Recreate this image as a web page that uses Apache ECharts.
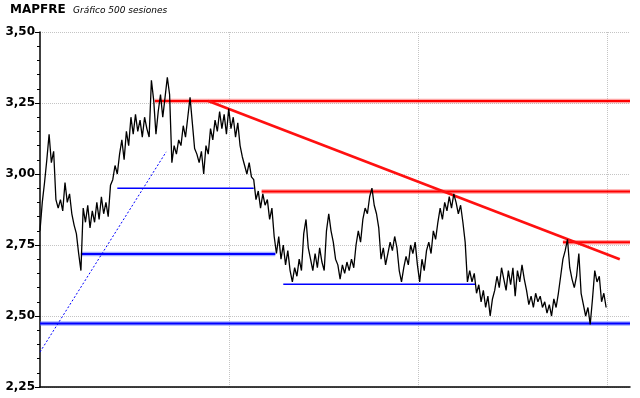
<!DOCTYPE html>
<html><head><meta charset="utf-8">
<script src="https://cdn.jsdelivr.net/npm/echarts@6/dist/echarts.min.js"></script>
<style>html,body{margin:0;padding:0;background:#fff}#c{width:640px;height:398px}</style>
</head><body><div id="c"></div>
<script>
// daily closes sampled every 2 sessions (500 sessions)
const sessionStep = 2;
const prices = [
2.80,2.90,2.97,3.05,3.14,3.04,3.08,2.91,2.88,2.91,
2.87,2.97,2.90,2.93,2.86,2.82,2.79,2.72,2.66,2.88,
2.83,2.89,2.81,2.87,2.83,2.90,2.84,2.92,2.86,2.90,
2.85,2.96,2.98,3.03,3.00,3.07,3.12,3.05,3.15,3.10,
3.20,3.14,3.21,3.15,3.19,3.13,3.20,3.16,3.13,3.33,
3.26,3.14,3.22,3.28,3.20,3.27,3.34,3.28,3.04,3.10,
3.07,3.12,3.10,3.17,3.13,3.20,3.27,3.18,3.09,3.07,
3.04,3.08,3.00,3.10,3.07,3.16,3.12,3.19,3.15,3.22,
3.16,3.21,3.14,3.23,3.16,3.20,3.13,3.18,3.10,3.06,
3.03,3.00,3.04,2.99,2.98,2.91,2.94,2.88,2.93,2.89,
2.91,2.84,2.88,2.78,2.72,2.78,2.70,2.75,2.68,2.73,
2.66,2.62,2.67,2.64,2.70,2.66,2.79,2.84,2.74,2.70,
2.66,2.72,2.67,2.74,2.69,2.66,2.80,2.86,2.80,2.76,
2.70,2.68,2.63,2.68,2.65,2.69,2.66,2.70,2.67,2.75,
2.80,2.76,2.84,2.88,2.86,2.92,2.95,2.89,2.86,2.81,
2.70,2.74,2.68,2.72,2.76,2.73,2.78,2.74,2.66,2.62,
2.67,2.71,2.68,2.75,2.72,2.76,2.68,2.62,2.70,2.66,
2.73,2.76,2.72,2.80,2.77,2.83,2.88,2.84,2.90,2.87,
2.92,2.88,2.93,2.90,2.86,2.89,2.83,2.76,2.62,2.66,
2.62,2.65,2.58,2.61,2.55,2.59,2.53,2.57,2.50,2.56,
2.59,2.64,2.60,2.67,2.63,2.59,2.66,2.61,2.67,2.57,
2.66,2.62,2.68,2.63,2.59,2.54,2.57,2.53,2.58,2.55,
2.57,2.53,2.55,2.51,2.54,2.50,2.56,2.53,2.58,2.64,
2.70,2.73,2.77,2.67,2.63,2.60,2.64,2.72,2.58,2.54,
2.50,2.53,2.47,2.56,2.66,2.62,2.64,2.55,2.58,2.53
];
// [startSession, startPrice, endSession, endPrice]
const resistanceTop = [101, 3.257, 519, 3.257];
const resistanceTrend = [148, 3.257, 510, 2.70];
const resistanceMid = [195, 2.938, 519, 2.938];
const resistanceLow = [460, 2.76, 519, 2.76];
const supportMain = [0, 2.474, 519, 2.474];
const supportMid = [36, 2.718, 207, 2.718];
const supportHigh = [68, 2.95, 188, 2.95];
const supportLow = [214, 2.612, 383, 2.612];
const supportTrend = [0, 2.373, 111, 3.078];
const yTicks = [2.25, 2.50, 2.75, 3.00, 3.25, 3.50];

const seg = a => [[a[0], a[1]], [a[2], a[3]]];
function lineSeries(a, color, width, type, z) {
  return { type: 'line', data: seg(a), symbol: 'none', silent: true, z: z || 2,
    lineStyle: { color: color, width: width, type: type || 'solid', cap: 'butt' } };
}
const series = [];
[resistanceTop, resistanceMid, resistanceLow].forEach(a => {
  series.push(lineSeries(a, 'rgba(255,90,90,0.55)', 4.5));
  series.push(lineSeries(a, '#ff0000', 2, 'solid', 3));
});
series.push(lineSeries(resistanceTrend, '#ff1010', 2.6, 'solid', 3));
[supportMain, supportMid].forEach(a => {
  series.push(lineSeries(a, 'rgba(90,110,255,0.55)', 4.5));
  series.push(lineSeries(a, '#0000ff', 2, 'solid', 3));
});
[supportHigh, supportLow].forEach(a => series.push(lineSeries(a, '#0000ff', 1.4, 'solid', 3)));
series.push(lineSeries(supportTrend, '#0000ff', 1, [2, 2], 3));
series.push({ type: 'line', data: prices.map((p, i) => [i * sessionStep, p]), symbol: 'none',
  silent: true, z: 5, lineStyle: { color: '#000', width: 1.3 } });

const chart = echarts.init(document.getElementById('c'), null, { renderer: 'canvas' });
chart.setOption({
  animation: false,
  backgroundColor: '#fff',
  title: [
    { text: 'MAPFRE', left: 10, top: 4, padding: 0, textStyle: { fontFamily: 'DejaVu Sans', fontWeight: 'bold', fontSize: 12, color: '#000' } },
    { text: 'Gráfico 500 sesiones', left: 73, top: 6, padding: 0, textStyle: { fontFamily: 'DejaVu Sans', fontStyle: 'italic', fontWeight: 'normal', fontSize: 9, color: '#000' } }
  ],
  grid: { left: 40, right: 10, top: 32, bottom: 11 },
  xAxis: {
    type: 'value', min: 0, max: 519, interval: 499 / 3,
    axisLine: { show: true, onZero: false, lineStyle: { color: '#000', width: 1.5 } },
    axisTick: { show: false }, axisLabel: { show: false },
    splitLine: { show: true, showMinLine: false, showMaxLine: false, lineStyle: { color: '#c4c4c4', type: 'dotted', width: 1 } }
  },
  yAxis: {
    type: 'value', min: yTicks[0], max: yTicks[yTicks.length - 1], interval: 0.25,
    axisLine: { show: true, lineStyle: { color: '#000', width: 1.5 } },
    axisTick: { show: true, length: 5, lineStyle: { color: '#000', width: 1 } },
    minorTick: { show: true, splitNumber: 5, length: 3, lineStyle: { color: '#000', width: 1 } },
    axisLabel: { margin: 5, fontFamily: 'DejaVu Sans', fontWeight: 'bold', fontSize: 12, color: '#000',
      formatter: v => v.toFixed(2).replace('.', ',') },
    splitLine: { show: true, lineStyle: { color: '#c4c4c4', type: 'dotted', width: 1 } }
  },
  series: series
});
</script></body></html>
